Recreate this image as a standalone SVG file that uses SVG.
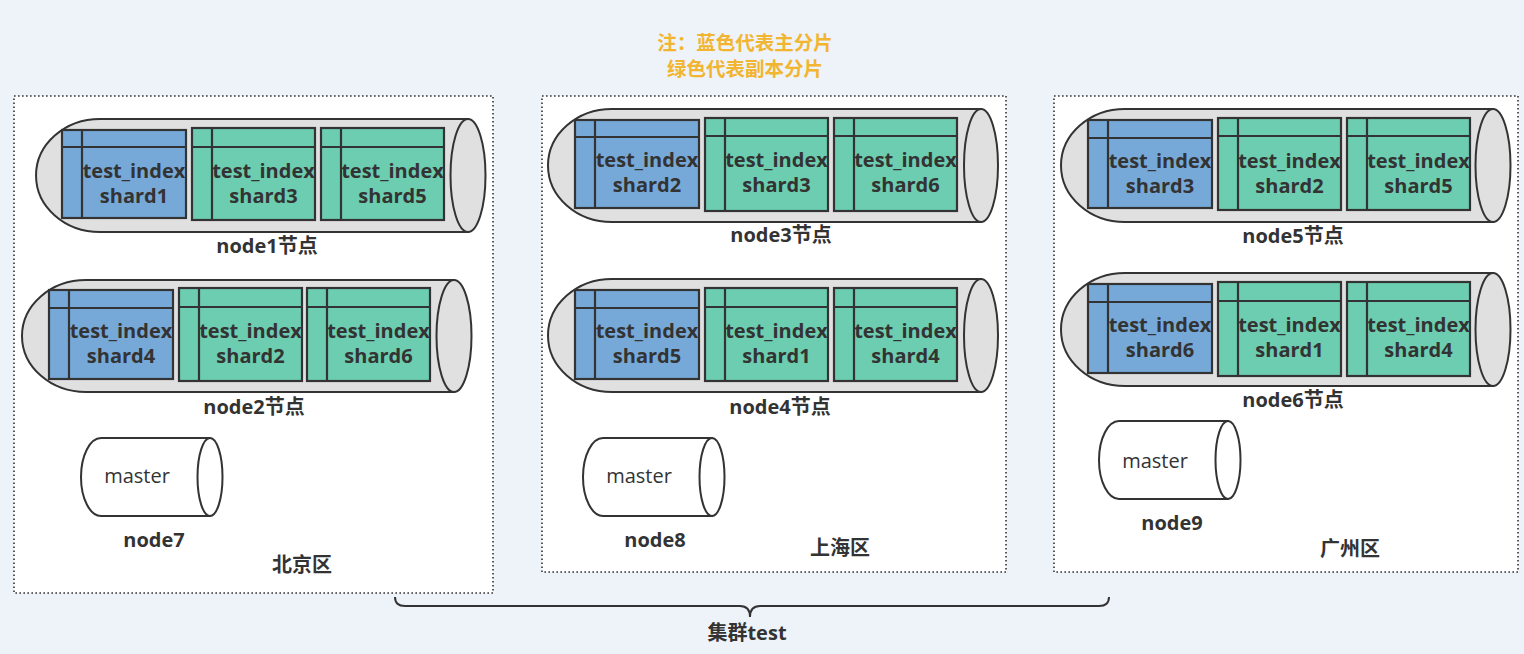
<svg xmlns="http://www.w3.org/2000/svg" width="1524" height="654" viewBox="0 0 1524 654">
<style>
.bg{fill:#eef2f9}
.region{fill:#ffffff;stroke:#333333;stroke-width:1.6;stroke-dasharray:1.6 2.4}
.cyl{fill:#e0e0e0;stroke:#333333;stroke-width:2}
.mst{fill:#ffffff;stroke:#333333;stroke-width:2}
.blue{fill:#76a9d8;stroke:#333333;stroke-width:2.2}
.green{fill:#6ccdb0;stroke:#333333;stroke-width:2.2}
.ln{stroke:#333333;stroke-width:2.2;fill:none}
text{font-family:"Open Sans","Noto Sans CJK SC",sans-serif;fill:#333333;text-anchor:middle}
.st{font-size:20px;font-weight:bold}
.lbl{font-size:20px;font-weight:bold}
.m{font-size:20px;font-weight:normal}
.note{font-size:19.5px;font-weight:bold;fill:#f2b530}
.brace{fill:none;stroke:#333333;stroke-width:2}
</style>
<rect class="bg" x="0" y="0" width="1524" height="654"/>

<g id="note">
<text class="note" x="745" y="50">注：蓝色代表主分片</text>
<text class="note" x="745" y="76">绿色代表副本分片</text>
</g>

<g id="region-beijing">
<rect class="region" x="14" y="96" width="479" height="497"/>
<text class="lbl" x="302" y="572">北京区</text>
</g>
<g id="region-shanghai">
<rect class="region" x="542" y="96" width="464" height="476"/>
<text class="lbl" x="840" y="555">上海区</text>
</g>
<g id="region-guangzhou">
<rect class="region" x="1054" y="96" width="464" height="476"/>
<text class="lbl" x="1350" y="556">广州区</text>
</g>

<g id="node1">
<path class="cyl" d="M468,119 L100,119 A64,56.5 0 0 0 100,232 L468,232 Z"/>
<ellipse class="cyl" cx="468" cy="175.5" rx="17.5" ry="56.5"/>
<rect class="blue" x="62" y="130" width="124" height="88"/><path class="ln" d="M82,130V218M62,147H186"/>
<text class="st" x="134" y="178">test_index</text><text class="st" x="134" y="203">shard1</text>
<rect class="green" x="192" y="128" width="123" height="92"/><path class="ln" d="M212,128V220M192,147H315"/>
<text class="st" x="263.5" y="178">test_index</text><text class="st" x="263.5" y="203">shard3</text>
<rect class="green" x="321" y="128" width="123" height="92"/><path class="ln" d="M341,128V220M321,147H444"/>
<text class="st" x="392.5" y="178">test_index</text><text class="st" x="392.5" y="203">shard5</text>
<text class="lbl" x="267" y="253">node1节点</text>
</g>

<g id="node2">
<path class="cyl" d="M454,280 L86,280 A64,56 0 0 0 86,392 L454,392 Z"/>
<ellipse class="cyl" cx="454" cy="336" rx="17.5" ry="56"/>
<rect class="blue" x="49" y="290" width="124" height="89"/><path class="ln" d="M69,290V379M49,308H173"/>
<text class="st" x="121" y="338">test_index</text><text class="st" x="121" y="363">shard4</text>
<rect class="green" x="179" y="288" width="123" height="93"/><path class="ln" d="M199,288V381M179,307H302"/>
<text class="st" x="250.5" y="338">test_index</text><text class="st" x="250.5" y="363">shard2</text>
<rect class="green" x="307" y="288" width="123" height="93"/><path class="ln" d="M327,288V381M307,307H430"/>
<text class="st" x="378.5" y="338">test_index</text><text class="st" x="378.5" y="363">shard6</text>
<text class="lbl" x="254" y="414">node2节点</text>
</g>

<g id="node7">
<path class="mst" d="M210,438 L101,438 A20,39 0 0 0 101,516 L210,516 Z"/>
<ellipse class="mst" cx="210" cy="477" rx="12.5" ry="39"/>
<text class="m" x="137" y="483">master</text>
<text class="lbl" x="154" y="547">node7</text>
</g>

<g id="node3">
<path class="cyl" d="M981,109 L612,109 A64,56.5 0 0 0 612,222 L981,222 Z"/>
<ellipse class="cyl" cx="981" cy="165.5" rx="17" ry="56.5"/>
<rect class="blue" x="575" y="120" width="124" height="88"/><path class="ln" d="M595,120V208M575,137H699"/>
<text class="st" x="647" y="167">test_index</text><text class="st" x="647" y="192">shard2</text>
<rect class="green" x="705" y="118" width="123" height="93"/><path class="ln" d="M725,118V211M705,136H828"/>
<text class="st" x="776.5" y="167">test_index</text><text class="st" x="776.5" y="192">shard3</text>
<rect class="green" x="834" y="118" width="123" height="93"/><path class="ln" d="M854,118V211M834,136H957"/>
<text class="st" x="905.5" y="167">test_index</text><text class="st" x="905.5" y="192">shard6</text>
<text class="lbl" x="781" y="242">node3节点</text>
</g>

<g id="node4">
<path class="cyl" d="M981,279 L612,279 A64,56.5 0 0 0 612,392 L981,392 Z"/>
<ellipse class="cyl" cx="981" cy="335.5" rx="17" ry="56.5"/>
<rect class="blue" x="575" y="290" width="124" height="89"/><path class="ln" d="M595,290V379M575,308H699"/>
<text class="st" x="647" y="338">test_index</text><text class="st" x="647" y="363">shard5</text>
<rect class="green" x="705" y="288" width="123" height="93"/><path class="ln" d="M725,288V381M705,307H828"/>
<text class="st" x="776.5" y="338">test_index</text><text class="st" x="776.5" y="363">shard1</text>
<rect class="green" x="834" y="288" width="123" height="93"/><path class="ln" d="M854,288V381M834,307H957"/>
<text class="st" x="905.5" y="338">test_index</text><text class="st" x="905.5" y="363">shard4</text>
<text class="lbl" x="780" y="414">node4节点</text>
</g>

<g id="node8">
<path class="mst" d="M712,438 L603,438 A20,39 0 0 0 603,516 L712,516 Z"/>
<ellipse class="mst" cx="712" cy="477" rx="12.5" ry="39"/>
<text class="m" x="639" y="483">master</text>
<text class="lbl" x="655" y="547">node8</text>
</g>

<g id="node5">
<path class="cyl" d="M1493,109 L1125,109 A64,56.5 0 0 0 1125,222 L1493,222 Z"/>
<ellipse class="cyl" cx="1493" cy="165.5" rx="17.5" ry="56.5"/>
<rect class="blue" x="1088" y="120" width="124" height="88"/><path class="ln" d="M1108,120V208M1088,138H1212"/>
<text class="st" x="1160" y="168">test_index</text><text class="st" x="1160" y="193">shard3</text>
<rect class="green" x="1218" y="118" width="123" height="92"/><path class="ln" d="M1238,118V210M1218,136H1341"/>
<text class="st" x="1289.5" y="168">test_index</text><text class="st" x="1289.5" y="193">shard2</text>
<rect class="green" x="1347" y="118" width="123" height="92"/><path class="ln" d="M1367,118V210M1347,136H1470"/>
<text class="st" x="1418.5" y="168">test_index</text><text class="st" x="1418.5" y="193">shard5</text>
<text class="lbl" x="1293" y="243">node5节点</text>
</g>

<g id="node6">
<path class="cyl" d="M1493,273 L1125,273 A64,56.5 0 0 0 1125,386 L1493,386 Z"/>
<ellipse class="cyl" cx="1493" cy="329.5" rx="17.5" ry="56.5"/>
<rect class="blue" x="1088" y="284" width="124" height="89"/><path class="ln" d="M1108,284V373M1088,302H1212"/>
<text class="st" x="1160" y="332">test_index</text><text class="st" x="1160" y="357">shard6</text>
<rect class="green" x="1218" y="282" width="123" height="94"/><path class="ln" d="M1238,282V376M1218,301H1341"/>
<text class="st" x="1289.5" y="332">test_index</text><text class="st" x="1289.5" y="357">shard1</text>
<rect class="green" x="1347" y="282" width="123" height="94"/><path class="ln" d="M1367,282V376M1347,301H1470"/>
<text class="st" x="1418.5" y="332">test_index</text><text class="st" x="1418.5" y="357">shard4</text>
<text class="lbl" x="1293" y="407">node6节点</text>
</g>

<g id="node9">
<path class="mst" d="M1228,421 L1119,421 A20,39 0 0 0 1119,499 L1228,499 Z"/>
<ellipse class="mst" cx="1228" cy="460" rx="12.5" ry="39"/>
<text class="m" x="1155" y="468">master</text>
<text class="lbl" x="1172" y="530">node9</text>
</g>

<g id="connectors">
<path class="brace" d="M395,597 Q395,606 405,606 L740,606 Q750,606 750,617 Q750,606 760,606 L1099,606 Q1109,606 1109,597"/>
<text class="lbl" x="747" y="640">集群test</text>
</g>
</svg>
